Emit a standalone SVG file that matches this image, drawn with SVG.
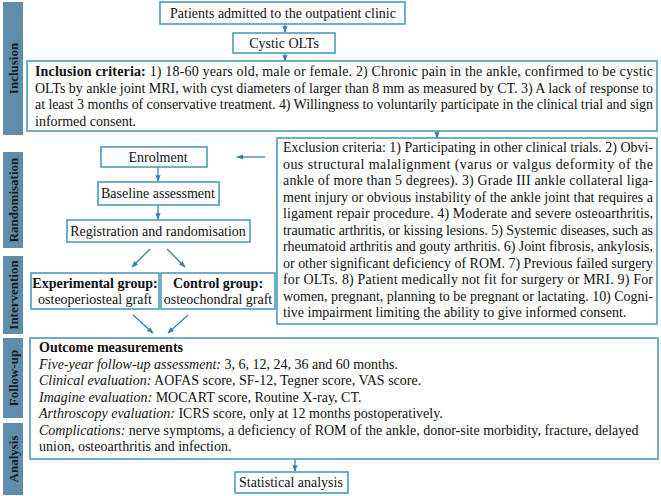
<svg xmlns="http://www.w3.org/2000/svg" width="661" height="496" viewBox="0 0 661 496">
<defs>
<style>
.bx{fill:#fff;stroke:#4a9cbc;stroke-width:1.6}
.sb{fill:#5f8daa}
.sl{font-family:"Liberation Serif",serif;font-weight:bold;font-size:13px;fill:#1a1a1a;text-anchor:middle}
.t{font-family:"Liberation Serif",serif;font-size:14px;fill:#111}
.c{text-anchor:middle}
.b{font-weight:bold}
.i{font-style:italic}
.cn{stroke:#3d7fa8;stroke-width:1.3;fill:none}
</style>
<marker id="ah" viewBox="0 0 10 10" refX="9" refY="5" markerWidth="5" markerHeight="5" orient="auto">
<path d="M0,1 L10,5 L0,9 z" fill="#3d7fa8"/>
</marker>
</defs>
<rect width="661" height="496" fill="#fff"/>

<g id="sidebar">
<rect class="sb" x="3" y="2" width="20" height="133"/>
<rect class="sb" x="3" y="152" width="20" height="96"/>
<rect class="sb" x="3" y="256" width="20" height="78"/>
<rect class="sb" x="3" y="338" width="20" height="80"/>
<rect class="sb" x="3" y="423" width="20" height="72"/>
<text class="sl" transform="translate(17.5,68.5) rotate(-90)">Inclusion</text>
<text class="sl" transform="translate(17.5,200) rotate(-90)">Randomisation</text>
<text class="sl" transform="translate(17.5,295) rotate(-90)">Intervention</text>
<text class="sl" transform="translate(17.5,378) rotate(-90)">Follow-up</text>
<text class="sl" transform="translate(17.5,459) rotate(-90)">Analysis</text>
</g>

<g id="connectors">
<line class="cn" x1="285" y1="24" x2="285" y2="32" marker-end="url(#ah)"/>
<line class="cn" x1="285" y1="53" x2="285" y2="61" marker-end="url(#ah)"/>
<line class="cn" x1="437" y1="131" x2="437" y2="138" marker-end="url(#ah)"/>
<line class="cn" x1="265" y1="157" x2="237" y2="157" marker-end="url(#ah)"/>
<line class="cn" x1="158" y1="167" x2="158" y2="181" marker-end="url(#ah)"/>
<line class="cn" x1="158" y1="205" x2="158" y2="219" marker-end="url(#ah)"/>
<line class="cn" x1="150" y1="249" x2="132" y2="267" marker-end="url(#ah)"/>
<line class="cn" x1="167" y1="249" x2="185" y2="267" marker-end="url(#ah)"/>
<line class="cn" x1="133" y1="315" x2="153" y2="333" marker-end="url(#ah)"/>
<line class="cn" x1="188" y1="315" x2="168" y2="333" marker-end="url(#ah)"/>
<line class="cn" x1="295" y1="459" x2="295" y2="471" marker-end="url(#ah)"/>
</g>

<g id="patients">
<rect class="bx" x="160" y="2" width="245" height="22"/>
<text class="t c" x="283" y="18">Patients admitted to the outpatient clinic</text>
</g>

<g id="cystic">
<rect class="bx" x="233" y="33" width="102" height="20"/>
<text class="t c" x="284" y="48">Cystic OLTs</text>
</g>

<g id="inclusion">
<rect class="bx" x="27" y="61" width="630" height="70"/>
<text class="t" x="35" y="76" textLength="618" lengthAdjust="spacing"><tspan class="b">Inclusion criteria:</tspan> 1) 18-60 years old, male or female. 2) Chronic pain in the ankle, confirmed to be cystic</text>
<text class="t" x="35" y="92.5" textLength="618" lengthAdjust="spacing">OLTs by ankle joint MRI, with cyst diameters of larger than 8 mm as measured by CT. 3) A lack of response to</text>
<text class="t" x="35" y="109" textLength="618" lengthAdjust="spacing">at least 3 months of conservative treatment. 4) Willingness to voluntarily participate in the clinical trial and sign</text>
<text class="t" x="35" y="125.5">informed consent.</text>
</g>

<g id="exclusion">
<rect class="bx" x="277" y="138" width="380" height="186"/>
<text class="t" x="283" y="152" textLength="370" lengthAdjust="spacing">Exclusion criteria: 1) Participating in other clinical trials. 2) Obvi-</text>
<text class="t" x="283" y="168.5" textLength="370" lengthAdjust="spacing">ous structural malalignment (varus or valgus deformity of the</text>
<text class="t" x="283" y="185" textLength="370" lengthAdjust="spacing">ankle of more than 5 degrees). 3) Grade III ankle collateral liga-</text>
<text class="t" x="283" y="201.5" textLength="370" lengthAdjust="spacing">ment injury or obvious instability of the ankle joint that requires a</text>
<text class="t" x="283" y="218" textLength="370" lengthAdjust="spacing">ligament repair procedure. 4) Moderate and severe osteoarthritis,</text>
<text class="t" x="283" y="234.5" textLength="370" lengthAdjust="spacing">traumatic arthritis, or kissing lesions. 5) Systemic diseases, such as</text>
<text class="t" x="283" y="251" textLength="370" lengthAdjust="spacing">rheumatoid arthritis and gouty arthritis. 6) Joint fibrosis, ankylosis,</text>
<text class="t" x="283" y="267.5" textLength="370" lengthAdjust="spacing">or other significant deficiency of ROM. 7) Previous failed surgery</text>
<text class="t" x="283" y="284" textLength="370" lengthAdjust="spacing">for OLTs. 8) Patient medically not fit for surgery or MRI. 9) For</text>
<text class="t" x="283" y="300.5" textLength="370" lengthAdjust="spacing">women, pregnant, planning to be pregnant or lactating. 10) Cogni-</text>
<text class="t" x="283" y="317">tive impairment limiting the ability to give informed consent.</text>
</g>

<g id="enrolment">
<rect class="bx" x="101" y="147" width="106" height="20"/>
<text class="t c" x="158" y="162">Enrolment</text>
</g>

<g id="baseline">
<rect class="bx" x="98" y="182" width="121" height="23"/>
<text class="t c" x="158" y="198">Baseline assessment</text>
</g>

<g id="registration">
<rect class="bx" x="67" y="220" width="183" height="22"/>
<text class="t c" x="158" y="236">Registration and randomisation</text>
</g>

<g id="experimental">
<rect class="bx" x="31" y="273" width="128" height="36"/>
<text class="t c b" x="95" y="288">Experimental group:</text>
<text class="t c" x="95" y="304">osteoperiosteal graft</text>
</g>

<g id="control">
<rect class="bx" x="161" y="273" width="114" height="36"/>
<text class="t c b" x="218" y="288">Control group:</text>
<text class="t c" x="218" y="304">osteochondral graft</text>
</g>

<g id="outcome">
<rect class="bx" x="30" y="338" width="628" height="121"/>
<text class="t b" x="39" y="352">Outcome measurements</text>
<text class="t" x="39" y="368.5"><tspan class="i">Five-year follow-up assessment:</tspan> 3, 6, 12, 24, 36 and 60 months.</text>
<text class="t" x="39" y="385"><tspan class="i">Clinical evaluation:</tspan> AOFAS score, SF-12, Tegner score, VAS score.</text>
<text class="t" x="39" y="401.5"><tspan class="i">Imagine evaluation:</tspan> MOCART score, Routine X-ray, CT.</text>
<text class="t" x="39" y="418"><tspan class="i">Arthroscopy evaluation:</tspan> ICRS score, only at 12 months postoperatively.</text>
<text class="t" x="39" y="434.5"><tspan class="i">Complications:</tspan> nerve symptoms, a deficiency of ROM of the ankle, donor-site morbidity, fracture, delayed</text>
<text class="t" x="39" y="451">union, osteoarthritis and infection.</text>
</g>

<g id="statistical">
<rect class="bx" x="235" y="472" width="113" height="21"/>
<text class="t c" x="291" y="487">Statistical analysis</text>
</g>
</svg>
